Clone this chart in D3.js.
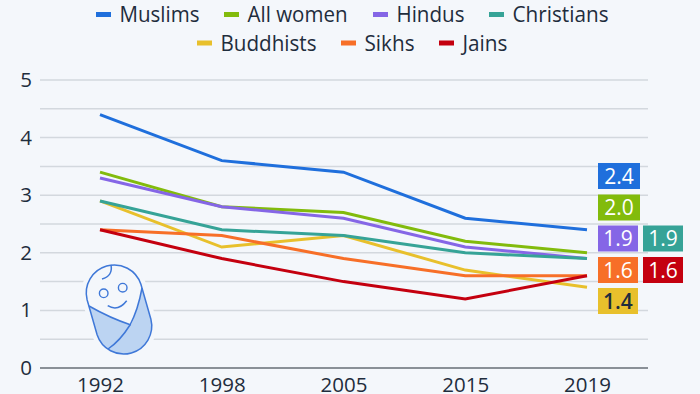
<!DOCTYPE html>
<html>
<head>
<meta charset="utf-8">
<script src="https://cdn.jsdelivr.net/npm/d3@7"></script>
<style>
html, body { margin: 0; padding: 0; background: #f4f7fb; }
svg { display: block; }
text { font-family: "Open Sans", sans-serif; fill: #1f2d3d; }
</style>
</head>
<body>
<div id="chart"></div>
<script>
var years = ["1992", "1998", "2005", "2015", "2019"];
var yTicks = [0, 1, 2, 3, 4, 5];
var gridValues = [0.5, 1, 1.5, 2, 2.5, 3, 3.5, 4, 4.5, 5];

var names = ["Muslims", "All women", "Hindus", "Christians", "Buddhists", "Sikhs", "Jains"];
var colors = ["#1f6fdc", "#82bb0c", "#8566e6", "#36a397", "#e8c02c", "#f76f28", "#c4000f"];

var muslims = [4.4, 3.6, 3.4, 2.6, 2.4];
var allWomen = [3.4, 2.8, 2.7, 2.2, 2.0];
var hindus = [3.3, 2.8, 2.6, 2.1, 1.9];
var christians = [2.9, 2.4, 2.3, 2.0, 1.9];
var buddhists = [2.9, 2.1, 2.3, 1.7, 1.4];
var sikhs = [2.4, 2.3, 1.9, 1.6, 1.6];
var jains = [2.4, 1.9, 1.5, 1.2, 1.6];
var seriesValues = [muslims, allWomen, hindus, christians, buddhists, sikhs, jains];

var w = 700;
var h = 394;
var bg = "#f4f7fb";
var iconBlue = "#3f78d8";

var svg = d3.select("#chart").append("svg").attr("width", w).attr("height", h);

var x = d3.scalePoint().domain(years).range([100, 587]);
var y = d3.scaleLinear().domain([0, 5]).range([368, 80]);

// grid
svg.selectAll(".grid")
   .data(gridValues)
   .enter()
   .append("line")
   .attr("x1", 40)
   .attr("x2", 648)
   .attr("y1", d => y(d))
   .attr("y2", d => y(d))
   .attr("stroke", "#d3d8de")
   .attr("stroke-width", 1.5);

svg.append("line")
   .attr("x1", 40).attr("x2", 648)
   .attr("y1", y(0)).attr("y2", y(0))
   .attr("stroke", "#8a9097")
   .attr("stroke-width", 2);

// y axis labels
var yAxis = d3.axisLeft(y).tickValues(yTicks).tickSize(0).tickPadding(0).tickFormat(d3.format("d"));
var yg = svg.append("g").attr("transform", "translate(32,0)").call(yAxis);
yg.select(".domain").remove();
yg.selectAll("text").style("font-size", "20.5px").style("font-family", '"Open Sans", sans-serif');

// x axis labels
var xAxis = d3.axisBottom(x).tickSize(0).tickPadding(0);
var xg = svg.append("g").attr("transform", "translate(0,377)").call(xAxis);
xg.select(".domain").remove();
xg.selectAll("text").style("font-size", "20.5px").style("font-family", '"Open Sans", sans-serif');

// baby icon, drawn in page coordinates
var capsule = "M140.9,284.3 L150.9,319.3 A28,28 0 0 1 97.1,334.7 L87.1,299.7 A28,28 0 0 1 140.9,284.3 Z";
var icon = svg.append("g");
icon.append("path").attr("d", capsule).attr("fill", bg).attr("stroke", bg).attr("stroke-width", 10);
icon.append("path")
    .attr("d", "M89,306 Q110,318 131,325 Q139,308 142,288 L150.9,319.3 A28,28 0 0 1 97.1,334.7 Z")
    .attr("fill", "#bcd4f2");
icon.append("path").attr("d", capsule).attr("fill", "none").attr("stroke", iconBlue).attr("stroke-width", 1.5);
icon.append("path")
    .attr("d", "M89,306 Q110,318 131,325 M142,288 Q138,310 130,325 Q120,341 108,349 M111,265 Q113,276 102,279 M107.7,305.7 Q118,312 126.7,300.7")
    .attr("fill", "none").attr("stroke", iconBlue).attr("stroke-width", 1.5);
icon.append("circle").attr("cx", 103.7).attr("cy", 293.3).attr("r", 4.3).attr("fill", "none").attr("stroke", iconBlue).attr("stroke-width", 1.4);
icon.append("circle").attr("cx", 122.7).attr("cy", 287.7).attr("r", 4.3).attr("fill", "none").attr("stroke", iconBlue).attr("stroke-width", 1.4);

// lines
var line = d3.line().x((d, i) => x(years[i])).y(d => y(d));
var drawOrder = [0, 1, 2, 4, 3, 5, 6];
svg.selectAll(".series")
   .data(drawOrder)
   .enter()
   .append("path")
   .attr("d", d => line(seriesValues[d]))
   .attr("fill", "none")
   .attr("stroke", d => colors[d])
   .attr("stroke-width", 3);

// legend, one entry per series
var legend = [
    { k: 0, sw: 96, tw: 80, cy: 14.5 },
    { k: 1, sw: 224, tw: 100, cy: 14.5 },
    { k: 2, sw: 373, tw: 68, cy: 14.5 },
    { k: 3, sw: 489, tw: 96, cy: 14.5 },
    { k: 4, sw: 197, tw: 96, cy: 43 },
    { k: 5, sw: 341, tw: 50, cy: 43 },
    { k: 6, sw: 439, tw: 45, cy: 43 }
];
legend.forEach(function(l) {
    svg.append("rect").attr("x", l.sw).attr("y", l.cy - 2.5).attr("width", 15).attr("height", 5).attr("fill", colors[l.k]);
    svg.append("text").attr("x", l.sw + 23.5).attr("y", l.cy + 7.5)
       .attr("textLength", l.tw).attr("lengthAdjust", "spacingAndGlyphs")
       .style("font-size", "21px")
       .text(names[l.k]);
});

// value boxes
var boxes = [
    { k: 0, x: 598, y: 163, w: 42 },
    { k: 1, x: 598, y: 194.5, w: 42 },
    { k: 2, x: 598, y: 225.5, w: 40 },
    { k: 3, x: 643, y: 225.5, w: 40 },
    { k: 5, x: 598, y: 257, w: 40 },
    { k: 6, x: 643, y: 257, w: 40 },
    { k: 4, x: 598, y: 288, w: 40 }
];

boxes.forEach(function(b) {
    svg.append("rect").attr("x", b.x).attr("y", b.y).attr("width", b.w).attr("height", 26).attr("fill", colors[b.k]);
    svg.append("text").attr("x", b.x + b.w / 2).attr("y", b.y + 20.5)
       .attr("text-anchor", "middle")
       .style("font-size", "21px").style("font-weight", b.k == 4 ? 600 : 500)
       .style("fill", b.k == 4 ? "#1f2d3d" : "#ffffff")
       .text(d3.format(".1f")(seriesValues[b.k][4]));
});
</script>
</body>
</html>
